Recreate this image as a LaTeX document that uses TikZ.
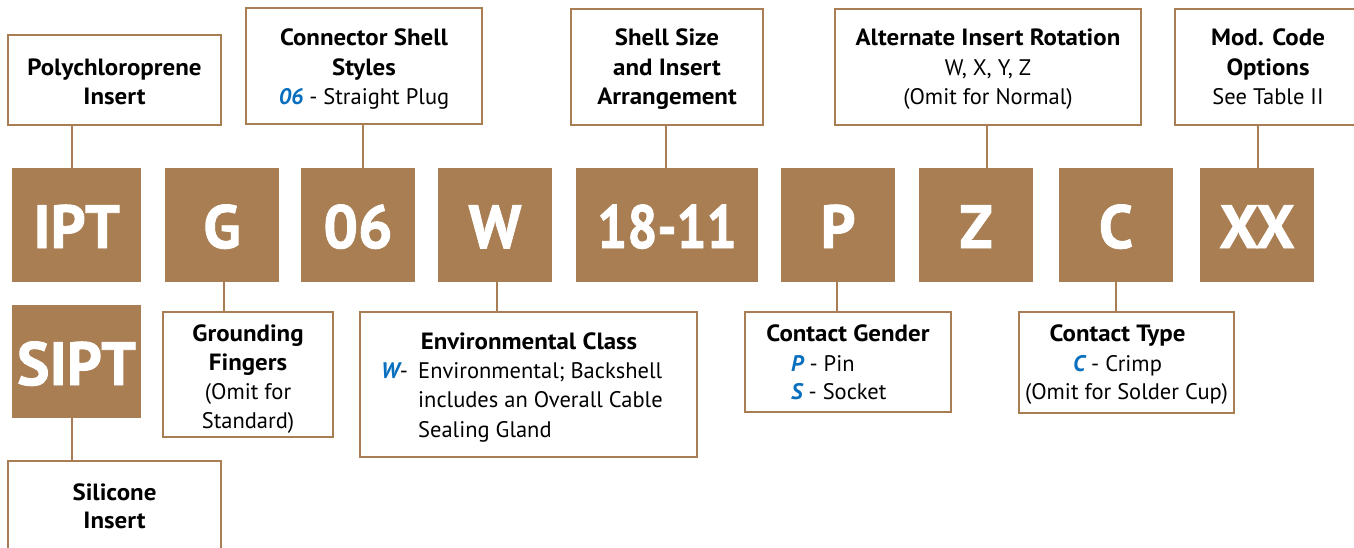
\documentclass[tikz,border=0pt]{standalone}
\usepackage{fontspec}
\setmainfont{PT Sans}
\newfontfamily\lblfont{PT Sans}[BoldFeatures={FakeStretch=1.06}]
\newfontfamily\codefont{PT Sans}[BoldFeatures={FakeBold=1.5}]
\definecolor{brn}{RGB}{169,126,83}
\definecolor{blu}{RGB}{8,110,190}
\newcommand{\bl}[1]{\textcolor{blu}{\bfseries\itshape #1}}
\begin{document}
\begin{tikzpicture}[x=1pt,y=-1pt,
  code/.style={fill=brn, inner sep=0pt, text=white,
    font=\fontsize{61}{61}\codefont\bfseries,
    text height=80pt, text depth=34pt, minimum width=114pt},
  lbox/.style={draw=brn, line width=2pt, fill=white, inner sep=0pt},
  conn/.style={draw=brn, line width=2pt},
  tb/.style={anchor=base, inner sep=0pt, font=\fontsize{23.5}{29}\lblfont\bfseries},
  tr/.style={anchor=base, inner sep=0pt, font=\fontsize{22.5}{29}\selectfont},
  trw/.style={anchor=base west, inner sep=0pt, font=\fontsize{22.5}{29}\selectfont}]
\useasboundingbox (0,0) rectangle (1354,547);
\clip (0,0) rectangle (1354,547);
% code boxes
\node[code, minimum width=129pt] (ipt) at (76.5,225) {IPT};
\node[code] (g) at (222,225) {G};
\node[code] (s06) at (358,225) {06};
\node[code] (w) at (495,225) {W};
\node[code, minimum width=182pt] (sz) at (667,225) {\scalebox{0.87}[1]{18-11}};
\node[code] (p) at (838,225) {P};
\node[code] (z) at (976,225) {Z};
\node[code] (c) at (1116,225) {C};
\node[code] (xx) at (1257,225) {XX};
\node[code, minimum width=129pt, text depth=33pt] (sipt) at (76.5,361.5) {SIPT};
% label boxes
\node[lbox, minimum width=213pt, minimum height=90pt] (lpoly) at (114.5,80) {};
\node[lbox, minimum width=236pt, minimum height=116pt] (lsty) at (364,66) {};
\node[lbox, minimum width=192pt, minimum height=116pt] (lsz) at (667,67) {};
\node[lbox, minimum width=306pt, minimum height=116pt] (lalt) at (988,67) {};
\node[lbox, minimum width=186pt, minimum height=116pt] (lmod) at (1268,67) {};
\node[lbox, minimum width=170pt, minimum height=125pt] (lgnd) at (248,374.5) {};
\node[lbox, minimum width=213pt, minimum height=99pt] (lsil) at (114.5,510.5) {};
\node[lbox, minimum width=337pt, minimum height=145pt] (lenv) at (528.5,384.5) {};
\node[lbox, minimum width=206pt, minimum height=100pt] (lgen) at (848,362) {};
\node[lbox, minimum width=215pt, minimum height=101pt] (ltyp) at (1126.5,362.5) {};
% connectors
\draw[conn] ([xshift=-4.5pt]ipt.north) -- ([xshift=-4.5pt]ipt.north |- lpoly.south);
\draw[conn] ([xshift=5pt]s06.north) -- ([xshift=5pt]s06.north |- lsty.south);
\draw[conn] ([xshift=-1pt]sz.north) -- ([xshift=-1pt]sz.north |- lsz.south);
\draw[conn] ([xshift=11pt]z.north) -- ([xshift=11pt]z.north |- lalt.south);
\draw[conn] ([xshift=1pt]xx.north) -- ([xshift=1pt]xx.north |- lmod.south);
\draw[conn] ([xshift=2pt]g.south) -- ([xshift=2pt]g.south |- lgnd.north);
\draw[conn] ([xshift=2pt]w.south) -- ([xshift=2pt]w.south |- lenv.north);
\draw[conn] ([xshift=-1pt]p.south) -- ([xshift=-1pt]p.south |- lgen.north);
\draw[conn] (c.south) -- (c.south |- ltyp.north);
\draw[conn] ([xshift=-4.5pt]sipt.south) -- ([xshift=-4.5pt]sipt.south |- lsil.north);
% texts
\node[tb] (t1) at (114.5,75) {Polychloroprene};
\node[tb] (t2) at (114.5,104) {Insert};
\node[tb] (t3) at (364,45) {Connector Shell};
\node[tb] (t4) at (364,75) {Styles};
\node[tr] (t5) at (364,104) {\bl{06} - Straight Plug};
\node[tb] (t6) at (667,45) {Shell Size};
\node[tb] (t7) at (667,75) {and Insert};
\node[tb] (t8) at (667,104) {Arrangement};
\node[tb] (t9) at (988,45) {Alternate Insert Rotation};
\node[tr] (t10) at (988,75) {W, X, Y, Z};
\node[tr] (t11) at (988,104) {(Omit for Normal)};
\node[tb] (t12) at (1268,45) {Mod. Code};
\node[tb] (t13) at (1268,75) {Options};
\node[tr] (t14) at (1268,104) {See Table II};
\node[tb] (t15) at (248,341) {Grounding};
\node[tb] (t16) at (248,370) {Fingers};
\node[tr] (t17) at (248,399) {(Omit for};
\node[tr] (t18) at (248,428) {Standard)};
\node[tb] (t19) at (114.5,500) {Silicone};
\node[tb] (t20) at (114.5,528) {Insert};
\node[tb] (t21) at (529,349) {Environmental Class};
\node[trw] (t22) at (381,378) {\bl{W}-};
\node[trw] (t23) at (418,378) {Environmental; Backshell};
\node[trw] (t24) at (418,407) {includes an Overall Cable};
\node[trw] (t25) at (418,437) {Sealing Gland};
\node[tb] (t26) at (848,341) {Contact Gender};
\node[trw] (t27) at (791,371) {\bl{P} - Pin};
\node[trw] (t28) at (791,399) {\bl{S} - Socket};
\node[tb] (t29) at (1117.5,341) {Contact Type};
\node[tr] (t30) at (1117.5,371) {\bl{C} - Crimp};
\node[tr] (t31) at (1126.5,399) {(Omit for Solder Cup)};
\end{tikzpicture}
\end{document}
